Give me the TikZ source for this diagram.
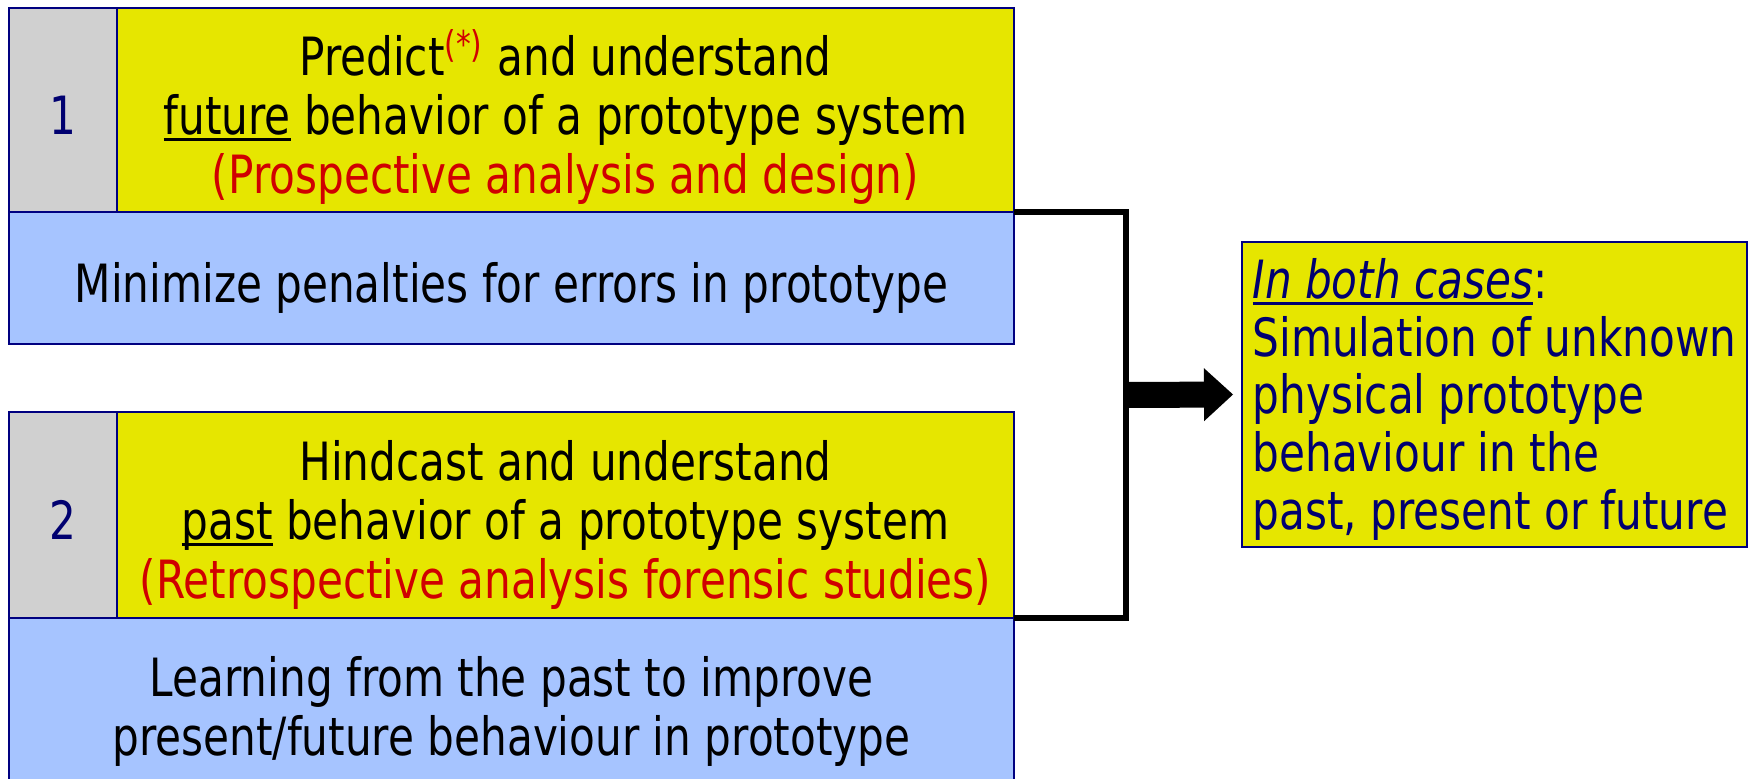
\documentclass[tikz,border=0pt]{standalone}
\usepackage{fontspec}
\setmainfont[FakeStretch=0.8]{DejaVu Sans}
\usetikzlibrary{shapes,arrows.meta,positioning,calc}

\definecolor{boxyellow}{HTML}{E6E600}
\definecolor{boxgray}{HTML}{D0D0D0}
\definecolor{boxblue}{HTML}{A6C4FF}
\definecolor{navyline}{HTML}{000080}
\definecolor{navytext}{HTML}{000070}
\definecolor{redtext}{HTML}{D00000}

% thick underline close to the baseline
\newcommand{\thickul}[1]{\setbox0\hbox{#1}\rlap{\rule[-1.8pt]{\wd0}{0.9pt}}\box0{}}
% struts for the first and last line of a cell
\newcommand{\topstrut}{\rule{0pt}{17.6pt}}
\newcommand{\botstrut}{\rule[-3.6pt]{0pt}{3.6pt}}

\begin{document}
\begin{tikzpicture}[x=0.1mm, y=-0.1mm]
    % Define styles
    \tikzset{
        cell/.style={draw=navyline, line width=0.8pt, rectangle, inner sep=0pt, outer sep=0pt, align=center,
            font=\fontsize{15}{16.8}\selectfont},
        numcell/.style={cell, fill=boxgray, text=navytext, minimum width=10.8mm},
        taskcell/.style={cell, fill=boxyellow, minimum width=89.7mm},
        gaincell/.style={cell, fill=boxblue, minimum width=100.5mm},
        bracket/.style={line width=1.6pt, line join=miter},
        bigarrow/.style={line width=2.6mm, -{Triangle[length=2.9mm, width=5.3mm, line width=0pt]}}
    }
    \useasboundingbox (0,0) rectangle (1750,779);
    \clip (0,0) rectangle (1750,779);

    % Place nodes
    \node[numcell, minimum height=20.4mm] (num1) at (63,110) {\topstrut 1\botstrut};
    \node[taskcell, minimum height=20.4mm] (task1) at (565.5,110) {\topstrut Predict\textsuperscript{\smash{\color{redtext}(*)}} and understand\\ \thickul{future} behavior of a prototype system\\ \textcolor{redtext}{(Prospective analysis and design)}\botstrut};
    \node[gaincell, minimum height=13.2mm] (gain1) at (511.5,278) {\topstrut Minimize penalties for errors in prototype\botstrut};

    \node[numcell, minimum height=20.6mm] (num2) at (63,515) {\topstrut 2\botstrut};
    \node[taskcell, minimum height=20.6mm] (task2) at (565.5,515) {\topstrut Hindcast and understand\\ \thickul{past} behavior of a prototype system\\ \textcolor{redtext}{(Retrospective analysis forensic studies)}\botstrut};
    \node[gaincell, minimum height=16.6mm] (gain2) at (511.5,701) {\topstrut Learning from the past to improve\\ present/future behaviour in prototype\botstrut};

    \node[cell, fill=boxyellow, text=navytext, align=left, minimum width=50.5mm, minimum height=30.5mm,
        font=\fontsize{15}{16.4}\selectfont] (result) at (1494.5,394.5) {\rule{0pt}{14.6pt}\thickul{\textit{In both cases}}:\\ Simulation of unknown\\ physical prototype\\ behaviour in the\\ past, present or future\botstrut};

    \coordinate (join) at (1126,395);

    % Draw bracket and arrow
    \draw[bracket] (task1.south east) -| (join) |- (task2.south east);
    \draw[bigarrow] (join) -- ([xshift=-0.9mm]result.west);
\end{tikzpicture}
\end{document}
